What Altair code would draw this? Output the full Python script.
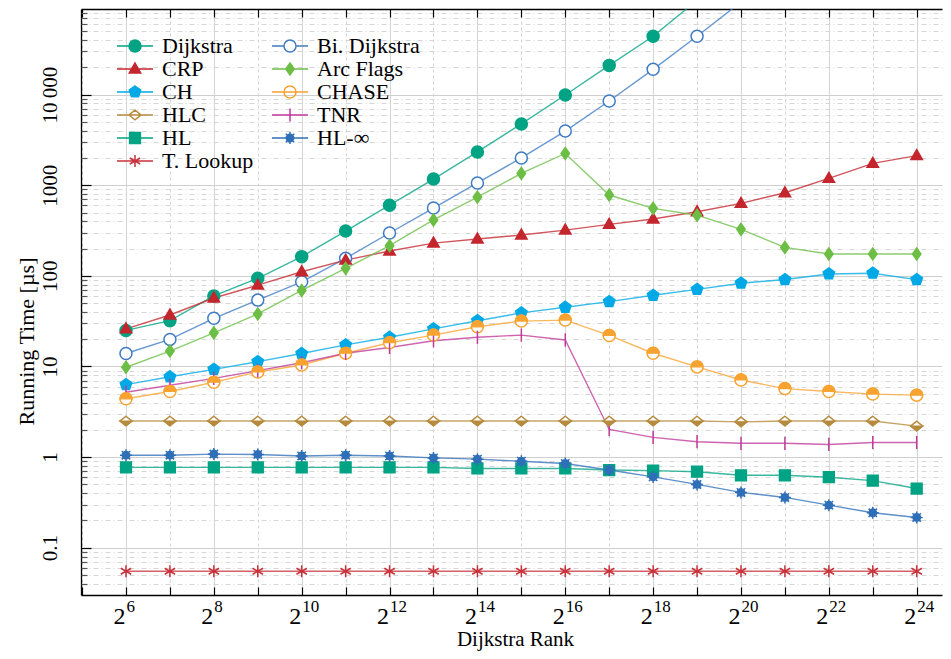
import json
import altair as alt
import pandas as pd

# ---------------- data ----------------
exponents = list(range(6, 25))  # Dijkstra rank = 2^exponent

series_names = ["Dijkstra", "Bi. Dijkstra", "CRP", "Arc Flags", "CH", "CHASE",
                "HLC", "TNR", "HL", "HL-∞", "T. Lookup"]
# legend fills its two columns top-down
legend_order = ["Dijkstra", "CRP", "CH", "HLC", "HL", "T. Lookup",
                "Bi. Dijkstra", "Arc Flags", "CHASE", "TNR", "HL-∞"]

dijkstra = [25, 32, 60, 94, 163, 312, 602, 1170, 2330, 4750, 9900, 21000, 44000, 110000]
bi_dijkstra = [13.9, 19.9, 34, 54, 86, 156, 297, 560, 1060, 2000, 3960, 8500, 19000, 44000, 105000]
crp = [26, 37, 57, 79, 111, 149, 188, 230, 255, 282, 320, 370, 424, 510, 630, 826, 1190, 1740, 2120]
arc_flags = [9.8, 14.8, 23.5, 38, 69, 121, 215, 414, 740, 1350, 2240, 780, 556, 467, 326, 206, 174, 174, 174]
ch = [6.3, 7.7, 9.3, 11.3, 13.9, 17.3, 21, 26, 32, 39, 45, 52, 61, 71, 83, 91, 105, 107, 91]
chase = [4.4, 5.3, 6.7, 8.7, 10.4, 14, 18.3, 22.2, 27.4, 31.7, 32.5, 22, 14, 9.9, 7.1, 5.7, 5.3, 4.96, 4.83]
hlc = [2.5, 2.5, 2.5, 2.5, 2.5, 2.5, 2.5, 2.5, 2.5, 2.5, 2.5, 2.5, 2.5, 2.5, 2.45, 2.5, 2.5, 2.5, 2.2]
tnr = [5.2, 6.2, 7.4, 9.0, 11, 14, 16.2, 19.2, 21, 22.2, 19.6, 2.02, 1.65, 1.48, 1.42, 1.42, 1.38, 1.45, 1.45]
hl = [0.77, 0.77, 0.77, 0.77, 0.77, 0.77, 0.77, 0.77, 0.75, 0.75, 0.75, 0.72, 0.71, 0.69, 0.63, 0.63, 0.60, 0.55, 0.45]
hl_inf = [1.05, 1.05, 1.08, 1.07, 1.03, 1.05, 1.03, 0.98, 0.95, 0.90, 0.85, 0.72, 0.605, 0.50, 0.408, 0.359, 0.295, 0.243, 0.216]
t_lookup = [0.055, 0.055, 0.055, 0.055, 0.055, 0.055, 0.055, 0.055, 0.055, 0.055,
            0.055, 0.055, 0.055, 0.055, 0.055, 0.055, 0.055, 0.055, 0.055]

series_values = [dijkstra, bi_dijkstra, crp, arc_flags, ch, chase, hlc, tnr, hl, hl_inf, t_lookup]

colors = ["#00A383", "#3E7BC4", "#C4262E", "#6CBE45", "#00A9E6", "#F8A331",
          "#B68B3E", "#C0399A", "#00A383", "#2F6FB8", "#C8323B"]
point_fills = ["#00A383", "#FFFFFF", "#C4262E", "#6CBE45", "#00A9E6", "#FFFFFF",
               "#FFFFFF", "transparent", "#00A383", "#2F6FB8", "#C8323B"]

# axis tick labels
x_label_exps = [6, 8, 10, 12, 14, 16, 18, 20, 22, 24]
x_label_sup = ["6", "8", "10", "12", "14", "16", "18", "20", "22", "24"]
x_all_ticks = list(range(5, 25))
y_label_values = [0.1, 1, 10, 100, 1000, 10000]
y_labels = ["0.1", "1", "10", "100", "1000", "10\u2009000"]
y_decades = [0.01, 0.1, 1, 10, 100, 1000, 10000]
y_multipliers = [1, 2, 3, 4, 5, 6, 7, 8, 9]

# ---------------- marker shapes ----------------
CIRC = "M1,0A1,1,0,1,1,-1,0A1,1,0,1,1,1,0Z"
TRI = "M0,-1L0.95,0.65L-0.95,0.65Z"
DIAM = "M0,-1L0.7,0L0,1L-0.7,0Z"
PENT = "M0,-1L0.951,-0.309L0.588,0.809L-0.588,0.809L-0.951,-0.309Z"
WDIAM = "M0,-0.8L1,0L0,0.8L-1,0Z"
VBAR = "M0,-1.1L0,1.1"
SQ = "M-0.9,-0.9L0.9,-0.9L0.9,0.9L-0.9,0.9Z"
STAR = ("M0.62,0A0.62,0.62,0,1,1,-0.62,0A0.62,0.62,0,1,1,0.62,0Z"
        "M0,-1L0,1M-1,0L1,0M-0.7,-0.7L0.7,0.7M-0.7,0.7L0.7,-0.7")
AST = "M0,-1L0,1M-0.87,-0.5L0.87,0.5M-0.87,0.5L0.87,-0.5"

marker_paths = [CIRC, CIRC, TRI, DIAM, PENT, CIRC, WDIAM, VBAR, SQ, STAR, AST]
half_names = ["CHASE", "HLC"]
half_paths = ["M-1,0A1,1,0,0,1,1,0Z", "M-1,0L1,0L0,0.8Z"]
half_colors = ["#F8A331", "#B68B3E"]

LINE = "M-3,0L3,0"
STUB = "M-3,0L-1,0M1,0L3,0"
legend_paths = [
    CIRC + LINE,
    CIRC + STUB,
    TRI + LINE,
    DIAM + LINE,
    PENT + LINE,
    CIRC + "M-1,0A1,1,0,0,0,1,0Z" + STUB,
    WDIAM + "M0,-0.8L-1,0L1,0Z" + STUB,
    "M-3,0L3,0" + VBAR,
    SQ + LINE,
    STAR + LINE,
    AST + LINE,
]
idx = [series_names.index(n) for n in legend_order]
leg_paths = [legend_paths[i] for i in idx]
leg_fills = [point_fills[i] for i in idx]
leg_colors = [colors[i] for i in idx]

# ---------------- table ----------------
rows = []
for name, vals in zip(series_names, series_values):
    for e, v in zip(exponents, vals):
        rows.append({"series": name, "exp": e, "time": v})
df = pd.DataFrame(rows)

W, H = 861, 586
xdom = [4.976, 24.576]
ydom = [0.0301, 88000]
y_all_ticks = [round(m * d, 6) for d in y_decades for m in y_multipliers]
y_all_ticks = [t for t in y_all_ticks if ydom[0] <= t <= ydom[1]]

FONT = "Liberation Serif"
xscale = alt.Scale(domain=xdom, nice=False, zero=False)
yscale = alt.Scale(type="log", domain=ydom, nice=False)

y_major = f"indexof({json.dumps(y_label_values)}, datum.value) >= 0"
x_major = f"indexof({json.dumps(x_label_exps)}, datum.value) >= 0"

x_main_axis = alt.Axis(
    values=x_all_ticks, ticks=False, domain=True, domainColor="black", domainWidth=1.3,
    grid=True,
    gridColor="#d4d4d4",
    gridDash={"condition": {"test": x_major, "value": []}, "value": [3, 3]},
    gridWidth=1,
    labelExpr=f"{x_major} ? '2' : ''",
    labelFont=FONT, labelFontSize=24, labelColor="black", labelAlign="right", labelOffset=-1,
    labelBaseline="alphabetic", labelPadding=28, labelFlush=False, labelOverlap=False,
    title="Dijkstra Rank", titleFont=FONT, titleFontSize=21, titleFontWeight="normal",
    titleColor="black", titleX=434, titleY=50, titleAlign="center", titleBaseline="alphabetic",
)
y_main_axis = alt.Axis(
    values=y_all_ticks, ticks=False, domain=True, domainColor="black", domainWidth=1.3,
    grid=True,
    gridColor={"condition": {"test": y_major, "value": "#cfcfcf"}, "value": "#d6d6d6"},
    gridDash={"condition": {"test": y_major, "value": []}, "value": [5, 3, 1, 3]},
    gridWidth=1,
    labelExpr=(f"{y_major} ? {json.dumps(y_labels, ensure_ascii=False)}"
               f"[indexof({json.dumps(y_label_values)}, datum.value)] : ''"),
    labelFont=FONT, labelFontSize=21, labelColor="black", labelAngle=270, labelAlign="center",
    labelBaseline="alphabetic", labelPadding=25, labelFlush=False, labelOverlap=False,
    title="Running Time [µs]", titleFont=FONT, titleFontSize=22, titleFontWeight="normal",
    titleColor="black", titleAngle=270, titleX=-48, titleY=332, titleAlign="center",
    titleBaseline="alphabetic",
)

lines = alt.Chart(df).mark_line(strokeWidth=1.4, opacity=0.78, clip=True).encode(
    x=alt.X("exp:Q", scale=xscale, axis=x_main_axis),
    y=alt.Y("time:Q", scale=yscale, axis=y_main_axis),
    stroke=alt.Stroke("series:N", scale=alt.Scale(domain=series_names, range=colors), legend=None),
    order="exp:Q",
)

points = alt.Chart(df).mark_point(size=144, strokeWidth=1.5, opacity=1, fillOpacity=1, clip=True).encode(
    x=alt.X("exp:Q", scale=xscale, axis=alt.Axis(
        orient="bottom", offset=-H, values=x_all_ticks, ticks=True, tickSize=8, tickColor="black",
        tickWidth=1.2, labels=False, domain=True, domainColor="black", domainWidth=1.3,
        grid=False, title=None)),
    y=alt.Y("time:Q", scale=yscale, axis=alt.Axis(
        orient="right", offset=-W, values=y_all_ticks, ticks=True,
        tickSize={"condition": {"test": y_major, "value": 10}, "value": 6},
        tickColor={"condition": {"test": y_major, "value": "black"}, "value": "#555555"},
        tickWidth=1.2, labels=False, domain=False, grid=False, title=None)),
    shape=alt.Shape("series:N", scale=alt.Scale(domain=series_names, range=marker_paths), legend=None),
    fill=alt.Fill("series:N", scale=alt.Scale(domain=series_names, range=point_fills), legend=None),
    stroke=alt.Stroke("series:N", scale=alt.Scale(domain=series_names, range=colors), legend=None),
)

overlay = alt.Chart(df).transform_filter(
    alt.FieldOneOfPredicate(field="series", oneOf=half_names)
).mark_point(size=144, strokeWidth=1.2, opacity=1, fillOpacity=1, clip=True).encode(
    x=alt.X("exp:Q", scale=xscale, axis=alt.Axis(
        orient="top", offset=-H, values=x_all_ticks, ticks=True, tickSize=8, tickColor="black",
        tickWidth=1.2, labels=False, domain=False, grid=False, title=None)),
    y=alt.Y("time:Q", scale=yscale, axis=None),
    shape=alt.Shape("series:N", scale=alt.Scale(domain=half_names, range=half_paths), legend=None),
    fill=alt.Fill("series:N", scale=alt.Scale(domain=half_names, range=half_colors), legend=None),
    stroke=alt.Stroke("series:N", scale=alt.Scale(domain=half_names, range=half_colors), legend=None),
)

legend_layer = alt.Chart(df).transform_filter("false").mark_point(
    size=144, strokeWidth=1.5, opacity=1, fillOpacity=1
).encode(
    x=alt.X("exp:Q", scale=xscale, axis=alt.Axis(
        orient="bottom", values=x_label_exps, ticks=False, domain=False, grid=False,
        labelExpr=(f"{json.dumps(x_label_sup)}[indexof({json.dumps(x_label_exps)}, datum.value)]"),
        labelFont=FONT, labelFontSize=17, labelColor="black", labelAlign="left", labelOffset=0,
        labelBaseline="alphabetic", labelPadding=16, labelFlush=False, labelOverlap=False,
        title=None)),
    y=alt.Y("time:Q", scale=yscale, axis=None),
    shape=alt.Shape("series:N", scale=alt.Scale(domain=legend_order, range=leg_paths), title=None),
    fill=alt.Fill("series:N", scale=alt.Scale(domain=legend_order, range=leg_fills), title=None),
    stroke=alt.Stroke("series:N", scale=alt.Scale(domain=legend_order, range=leg_colors), title=None),
)

chart = alt.layer(lines, points, overlay, legend_layer).resolve_scale(
    shape="independent", fill="independent", stroke="independent"
).resolve_axis(
    x="independent", y="independent"
).properties(
    width=W, height=H,
    autosize=alt.AutoSizeParams(type="none"),
    padding={"left": 73, "top": 1, "right": 1, "bottom": 56},
    background="white",
).configure_view(
    stroke=None
).configure_legend(
    orient="none", legendX=43, legendY=26, columns=2, padding=0,
    symbolSize=144, symbolStrokeWidth=1.5, symbolOpacity=1,
    labelFont=FONT, labelFontSize=22, labelColor="black", labelOffset=16,
    rowPadding=1, columnPadding=15, labelLimit=300,
)

chart.save("out.html", embed_options={"renderer": "svg", "actions": False})
